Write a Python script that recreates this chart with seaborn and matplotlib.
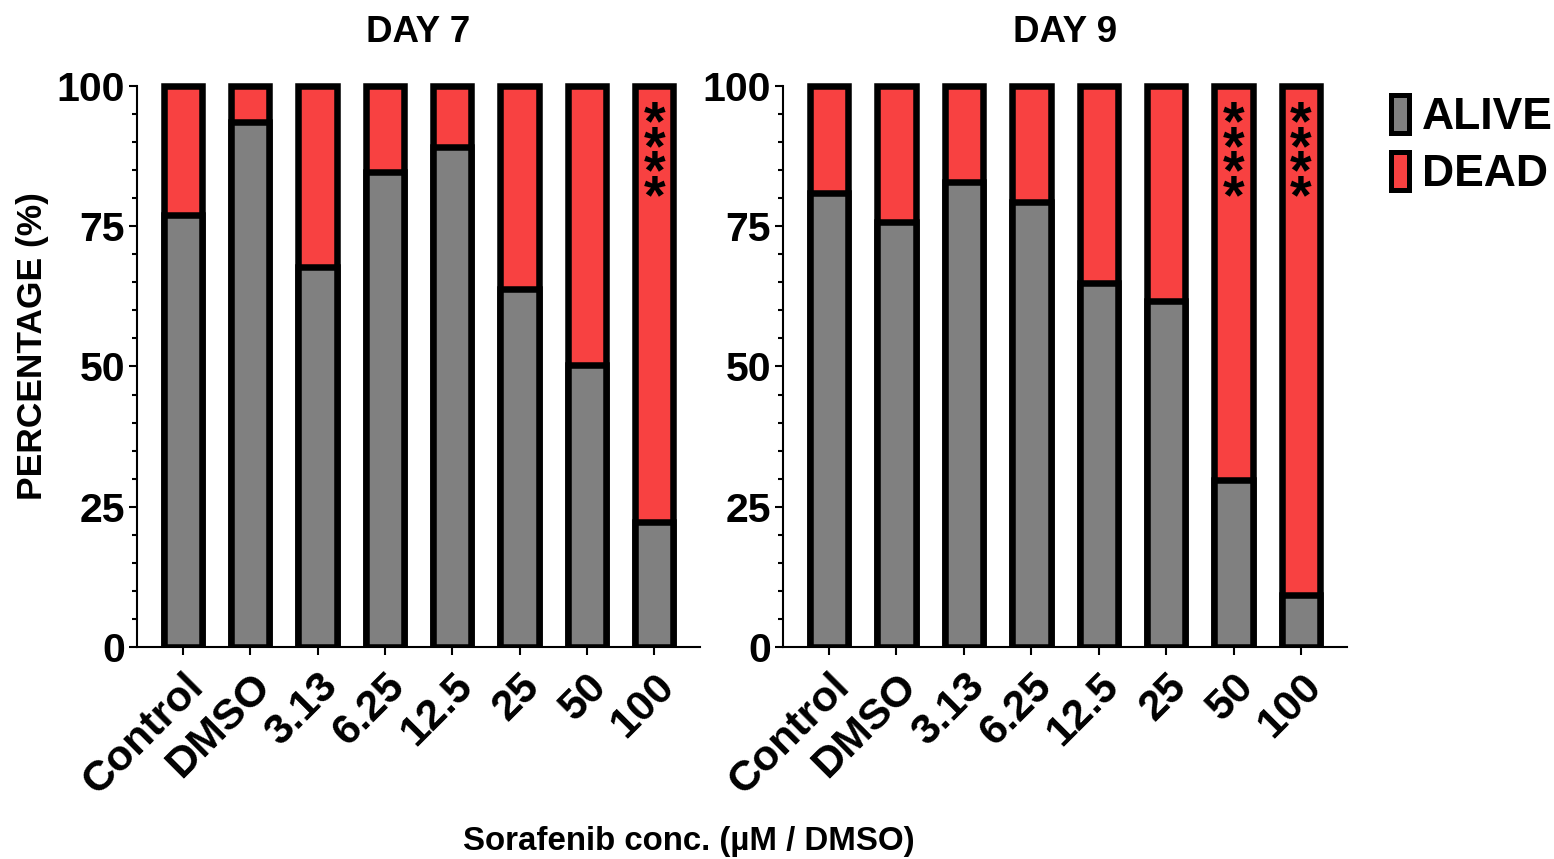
import matplotlib
matplotlib.use("Agg")
import matplotlib.pyplot as plt
import pandas as pd
import seaborn as sns
from matplotlib.patches import Patch
from matplotlib.ticker import MultipleLocator
from matplotlib.transforms import Bbox, TransformedBbox, blended_transform_factory

# Sorafenib treatment groups (µM) and cell viability (% of cells)
groups = ["Control", "DMSO", "3.13", "6.25", "12.5", "25", "50", "100"]

alive_day7 = [77.0, 93.6, 67.8, 84.7, 89.2, 63.9, 50.3, 22.2]
dead_day7 = [23.0, 6.4, 32.2, 15.3, 10.8, 36.1, 49.7, 77.8]
stars_day7 = ["", "", "", "", "", "", "", "****"]

alive_day9 = [81.0, 75.7, 82.8, 79.3, 64.8, 61.7, 29.8, 9.3]
dead_day9 = [19.0, 24.3, 17.2, 20.7, 35.2, 38.3, 70.2, 90.7]
stars_day9 = ["", "", "", "", "", "", "****", "****"]

panels = [
    ("DAY 7", alive_day7, dead_day7, stars_day7),
    ("DAY 9", alive_day9, dead_day9, stars_day9),
]

GREY = "#808080"
RED = "#F84141"
EDGE_W = 4.7

sns.set_theme(style="ticks")
plt.rcParams["font.family"] = ["Liberation Sans", "DejaVu Sans"]
plt.rcParams["font.weight"] = "bold"
plt.rcParams["axes.linewidth"] = 1.5
for key in ("text.color", "axes.labelcolor", "axes.edgecolor",
            "xtick.color", "ytick.color", "xtick.labelcolor", "ytick.labelcolor"):
    plt.rcParams[key] = "black"

fig = plt.figure(figsize=(15.54, 8.59), dpi=100)
axes = [
    fig.add_axes([0.0882, 0.2468, 0.3623, 0.6531]),
    fig.add_axes([0.5039, 0.2468, 0.3629, 0.6531]),
]

for ax, (title, alive, dead, stars) in zip(axes, panels):
    df = pd.DataFrame({
        "group": groups,
        "alive": alive,
        "total": [a + d for a, d in zip(alive, dead)],
    })
    # dead fraction stacked on top of the alive fraction
    sns.barplot(data=df, x="group", y="total", order=groups, color=RED,
                saturation=1, width=0.57, edgecolor="black",
                linewidth=EDGE_W, errorbar=None, ax=ax)
    sns.barplot(data=df, x="group", y="alive", order=groups, color=GREY,
                saturation=1, width=0.57, edgecolor="black",
                linewidth=EDGE_W, errorbar=None, ax=ax)

    # let the top outline of the bars show fully above y = 100
    clip = TransformedBbox(Bbox([[0, 0], [1, 101.5]]),
                           blended_transform_factory(ax.transAxes, ax.transData))
    for p in ax.patches:
        p.set_clip_box(clip)

    # significance marks, stacked vertically inside the bar
    for i, s in enumerate(stars):
        if s:
            ax.text(i, 86.4, "\n".join(s), ha="center", va="center",
                    fontsize=40, fontweight="bold", linespacing=0.31,
                    color="black")

    ax.set_xlim(-0.68, len(groups) - 0.32)
    ax.set_ylim(0, 100)
    ax.yaxis.set_major_locator(MultipleLocator(25))
    ax.yaxis.set_minor_locator(MultipleLocator(5))
    ax.tick_params(axis="y", which="major", length=5.8, width=1.5,
                   labelsize=29.5, pad=3)
    ax.tick_params(axis="y", which="minor", length=3.6, width=1.5)
    ax.tick_params(axis="x", length=5.8, width=1.5, labelsize=31, pad=8)
    ax.set_xticks(range(len(groups)))
    ax.set_xticklabels(groups, rotation=45, ha="right", va="top",
                       rotation_mode="anchor")
    for lab in ax.get_xticklabels() + ax.get_yticklabels():
        lab.set_fontweight("bold")
    ax.set_xlabel("")
    ax.set_ylabel("")
    ax.set_title(title, fontsize=26.5, fontweight="bold", pad=32)
    sns.despine(ax=ax)

fig.text(0.0206, 0.597, "PERCENTAGE (%)", rotation=90, ha="center",
         va="center", fontsize=25.5, fontweight="bold")
fig.text(0.443, 0.02, "Sorafenib conc. (µM / DMSO)", ha="center",
         va="center", fontsize=23.8, fontweight="bold")

handles = [
    Patch(facecolor=GREY, edgecolor="black", linewidth=3.6, label="ALIVE"),
    Patch(facecolor=RED, edgecolor="black", linewidth=3.6, label="DEAD"),
]
fig.legend(handles=handles, loc="upper left",
           bbox_to_anchor=(1391 / 1554, 1 - 95 / 859), frameon=False,
           prop={"size": 32, "weight": "bold"}, handlelength=0.4,
           handleheight=0.95, handletextpad=0.3, labelspacing=0.3,
           borderaxespad=0, borderpad=0)

fig.savefig("out.png", dpi=100)
